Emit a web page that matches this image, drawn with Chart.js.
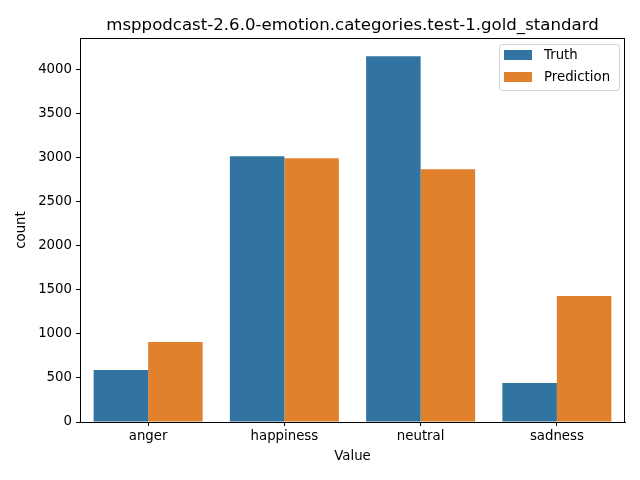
<!DOCTYPE html>
<html>
<head>
<meta charset="utf-8">
<script src="https://cdn.jsdelivr.net/npm/chart.js@4/dist/chart.umd.min.js"></script>
<style>
  html, body { margin: 0; padding: 0; background: #fff; }
  #wrap { width: 640px; height: 480px; }
</style>
</head>
<body>
<div id="wrap"><canvas id="chart" width="640" height="480"></canvas></div>
<script>
const categories = ['anger', 'happiness', 'neutral', 'sadness'];
const truthCounts = [590, 3016, 4150, 442];
const predictionCounts = [907, 2993, 2868, 1429];
const seriesNames = ['Truth', 'Prediction'];
const yTicks = [0, 500, 1000, 1500, 2000, 2500, 3000, 3500, 4000];
const yMax = 4357;
const chartTitle = 'msppodcast-2.6.0-emotion.categories.test-1.gold_standard';

const colors = { truth: '#3274a1', prediction: '#e1812c' };
const font = 'DejaVu Sans';

// frame, title and the in-plot legend (matplotlib style)
const mplDecor = {
  id: 'mplDecor',
  afterDraw(chart) {
    const { ctx, chartArea: a } = chart;
    ctx.save();
    ctx.strokeStyle = '#000';
    ctx.lineWidth = 1;
    ctx.strokeRect(a.left + 0.5, a.top + 0.5, a.right - a.left - 1, a.bottom - a.top);

    ctx.fillStyle = '#000';
    ctx.font = '16.6px "' + font + '"';
    ctx.textAlign = 'center';
    ctx.textBaseline = 'alphabetic';
    ctx.fillText(chartTitle, (a.left + a.right) / 2, 30);

    // legend
    const bx = 499, by = 44, bw = 120, bh = 46;
    ctx.fillStyle = 'rgba(255,255,255,0.8)';
    ctx.strokeStyle = '#d0d0d0';
    ctx.beginPath();
    ctx.roundRect(bx + 0.5, by + 0.5, bw, bh, 3);
    ctx.fill();
    ctx.stroke();
    ctx.font = '13.3px "' + font + '"';
    ctx.textAlign = 'left';
    ctx.textBaseline = 'middle';
    chart.data.datasets.forEach((ds, i) => {
      const y = by + 11 + i * 22;
      ctx.fillStyle = ds.backgroundColor;
      ctx.fillRect(bx + 5, y - 5, 28, 10);
      ctx.fillStyle = '#000';
      ctx.fillText(ds.label, bx + 45, y + 1);
    });
    ctx.restore();
  }
};

new Chart(document.getElementById('chart'), {
  type: 'bar',
  data: {
    labels: categories,
    datasets: [
      { label: seriesNames[0], data: truthCounts, backgroundColor: colors.truth },
      { label: seriesNames[1], data: predictionCounts, backgroundColor: colors.prediction }
    ]
  },
  options: {
    responsive: false,
    animation: false,
    categoryPercentage: 0.8,
    barPercentage: 1.0,
    layout: { padding: { left: 0, right: 15, top: 38, bottom: 0 } },
    plugins: {
      legend: { display: false },
      title: { display: false },
      tooltip: { enabled: false }
    },
    scales: {
      x: {
        afterFit(scale) { scale.height = 58; },
        grid: { drawOnChartArea: false, offset: false, tickLength: 4, color: '#000' },
        border: { color: '#000' },
        ticks: { color: '#000', padding: 3, font: { family: font, size: 13.3 } },
        title: { display: true, text: 'Value', color: '#000', padding: { top: 0, bottom: 15 }, font: { family: font, size: 13.3 } }
      },
      y: {
        min: 0,
        max: yMax,
        afterFit(scale) { scale.width = 80; },
        afterBuildTicks(scale) { scale.ticks = yTicks.map(v => ({ value: v })); },
        grid: { drawOnChartArea: false, tickLength: 4, color: '#000' },
        border: { color: '#000' },
        ticks: { color: '#000', padding: 4, callback: v => String(v), font: { family: font, size: 13.3 } },
        title: { display: true, text: 'count', color: '#000', padding: { top: 14, bottom: 0 }, font: { family: font, size: 13.3 } }
      }
    }
  },
  plugins: [mplDecor]
});
</script>
</body>
</html>
